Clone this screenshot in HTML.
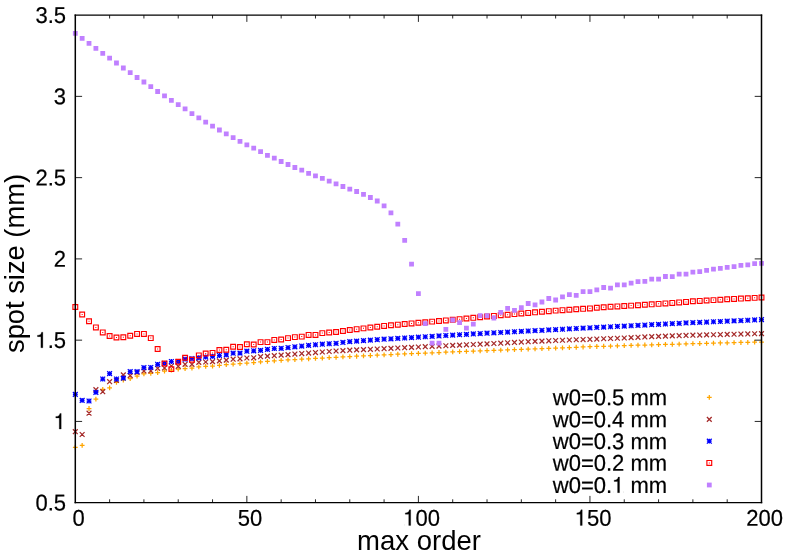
<!DOCTYPE html>
<html><head><meta charset="utf-8"><title>plot</title>
<style>
html,body{margin:0;padding:0;background:#fff;}
svg{display:block;filter:grayscale(0);}
text{font-family:"Liberation Sans",sans-serif;fill:#000;}
.t{font-size:22px;stroke:#000;stroke-width:0.2;}
.T{font-size:27.5px;}
.s{fill:none;stroke-width:1.25;}
.one{fill:#000;stroke:#000;stroke-width:12;}
.axh{fill:none;stroke:#000;stroke-width:1.25;}
.axv{fill:none;stroke:#000;stroke-width:1.5;}
.tk{fill:none;stroke:#000;stroke-width:0.85;}
.b{fill:none;stroke-width:1.15;}
</style></head><body>
<svg width="789" height="552" viewBox="0 0 789 552">
<rect width="789" height="552" fill="#fff"/>
<path class="s" stroke="#ffa500" d="M72.9 447.3H77.7M75.3 444.9V449.7M79.76 445.4H84.56M82.16 443V447.8M86.62 408.5H91.42M89.02 406.1V410.9M93.49 399.1H98.29M95.89 396.7V401.5M100.35 389.3H105.15M102.75 386.9V391.7M107.21 387.9H112.01M109.61 385.5V390.3M114.07 382.3H118.87M116.47 379.9V384.7M120.93 380.2H125.73M123.33 377.8V382.6M127.8 378.7H132.6M130.2 376.3V381.1M134.66 376.1H139.46M137.06 373.7V378.5M141.52 373.8H146.32M143.92 371.4V376.2M148.38 373.4H153.18M150.78 371V375.8M155.24 372.7H160.04M157.64 370.3V375.1M162.11 371.1H166.91M164.51 368.7V373.5M168.97 370.1H173.77M171.37 367.7V372.5M175.83 369.2H180.63M178.23 366.8V371.6M182.69 368.5H187.49M185.09 366.1V370.9M189.55 368.1H194.35M191.95 365.7V370.5M196.42 366.9H201.22M198.82 364.5V369.3M203.28 366.3H208.08M205.68 363.9V368.7M210.14 366.2H214.94M212.54 363.8V368.6M217 365.4H221.8M219.4 363V367.8M223.86 364.7H228.66M226.26 362.3V367.1M230.73 364.15H235.53M233.13 361.75V366.55M237.59 363.6H242.39M239.99 361.2V366M244.45 363.05H249.25M246.85 360.65V365.45M251.31 362.5H256.11M253.71 360.1V364.9M258.17 361.95H262.97M260.57 359.55V364.35M265.04 361.4H269.84M267.44 359V363.8M271.9 360.85H276.7M274.3 358.45V363.25M278.76 360.3H283.56M281.16 357.9V362.7M285.62 359.93H290.42M288.02 357.53V362.32M292.48 359.55H297.28M294.88 357.15V361.95M299.35 359.18H304.15M301.75 356.78V361.57M306.21 358.8H311.01M308.61 356.4V361.2M313.07 358.43H317.87M315.47 356.03V360.82M319.93 358.05H324.73M322.33 355.65V360.45M326.79 357.68H331.59M329.19 355.28V360.07M333.66 357.3H338.46M336.06 354.9V359.7M340.52 356.95H345.32M342.92 354.55V359.35M347.38 356.6H352.18M349.78 354.2V359M354.24 356.24H359.04M356.64 353.84V358.64M361.1 355.88H365.9M363.5 353.48V358.28M367.97 355.52H372.77M370.37 353.12V357.92M374.83 355.16H379.63M377.23 352.76V357.56M381.69 354.8H386.49M384.09 352.4V357.2M388.55 354.52H393.35M390.95 352.12V356.92M395.41 354.24H400.21M397.81 351.84V356.64M402.28 353.96H407.08M404.68 351.56V356.36M409.14 353.68H413.94M411.54 351.28V356.08M416 353.4H420.8M418.4 351V355.8M422.86 353.1H427.66M425.26 350.7V355.5M429.72 352.8H434.52M432.12 350.4V355.2M436.59 352.5H441.39M438.99 350.1V354.9M443.45 352.2H448.25M445.85 349.8V354.6M450.31 351.9H455.11M452.71 349.5V354.3M457.17 351.66H461.97M459.57 349.26V354.06M464.03 351.42H468.83M466.43 349.02V353.82M470.9 351.18H475.7M473.3 348.78V353.58M477.76 350.94H482.56M480.16 348.54V353.34M484.62 350.7H489.42M487.02 348.3V353.1M491.48 350.45H496.28M493.88 348.05V352.85M498.34 350.2H503.14M500.74 347.8V352.6M505.21 349.95H510.01M507.61 347.55V352.35M512.07 349.7H516.87M514.47 347.3V352.1M518.93 349.45H523.73M521.33 347.05V351.85M525.79 349.2H530.59M528.19 346.8V351.6M532.65 348.92H537.45M535.05 346.52V351.32M539.52 348.64H544.32M541.92 346.24V351.04M546.38 348.37H551.18M548.78 345.97V350.77M553.24 348.09H558.04M555.64 345.69V350.49M560.1 347.81H564.9M562.5 345.41V350.21M566.96 347.53H571.76M569.36 345.13V349.93M573.83 347.26H578.63M576.23 344.86V349.66M580.69 346.98H585.49M583.09 344.58V349.38M587.55 346.7H592.35M589.95 344.3V349.1M594.41 346.48H599.21M596.81 344.08V348.88M601.27 346.26H606.07M603.67 343.86V348.66M608.14 346.04H612.94M610.54 343.64V348.44M615 345.82H619.8M617.4 343.42V348.22M621.86 345.6H626.66M624.26 343.2V348M628.72 345.4H633.52M631.12 343V347.8M635.58 345.2H640.38M637.98 342.8V347.6M642.45 345H647.25M644.85 342.6V347.4M649.31 344.8H654.11M651.71 342.4V347.2M656.17 344.62H660.97M658.57 342.22V347.02M663.03 344.43H667.83M665.43 342.03V346.83M669.89 344.25H674.69M672.29 341.85V346.65M676.76 344.07H681.56M679.16 341.67V346.47M683.62 343.88H688.42M686.02 341.48V346.28M690.48 343.7H695.28M692.88 341.3V346.1M697.34 343.52H702.14M699.74 341.12V345.92M704.2 343.34H709M706.6 340.94V345.74M711.07 343.16H715.87M713.47 340.76V345.56M717.93 342.98H722.73M720.33 340.58V345.38M724.79 342.8H729.59M727.19 340.4V345.2M731.65 342.64H736.45M734.05 340.24V345.04M738.51 342.48H743.31M740.91 340.08V344.88M745.38 342.32H750.18M747.78 339.92V344.72M752.24 342.16H757.04M754.64 339.76V344.56M759.1 342H763.9M761.5 339.6V344.4"/>
<path class="s" stroke="#a52a2a" d="M72.9 429.3L77.7 434.1M72.9 434.1L77.7 429.3M79.76 432.1L84.56 436.9M79.76 436.9L84.56 432.1M86.62 410.8L91.42 415.6M86.62 415.6L91.42 410.8M93.49 387.3L98.29 392.1M93.49 392.1L98.29 387.3M100.35 389.3L105.15 394.1M100.35 394.1L105.15 389.3M107.21 379.3L112.01 384.1M107.21 384.1L112.01 379.3M114.07 378.1L118.87 382.9M114.07 382.9L118.87 378.1M120.93 372.5L125.73 377.3M120.93 377.3L125.73 372.5M127.8 373.2L132.6 378M127.8 378L132.6 373.2M134.66 370.1L139.46 374.9M134.66 374.9L139.46 370.1M141.52 368.6L146.32 373.4M141.52 373.4L146.32 368.6M148.38 368.4L153.18 373.2M148.38 373.2L153.18 368.4M155.24 365.9L160.04 370.7M155.24 370.7L160.04 365.9M162.11 365.6L166.91 370.4M162.11 370.4L166.91 365.6M168.97 363.6L173.77 368.4M168.97 368.4L173.77 363.6M175.83 363.9L180.63 368.7M175.83 368.7L180.63 363.9M182.69 361.9L187.49 366.7M182.69 366.7L187.49 361.9M189.55 361.9L194.35 366.7M189.55 366.7L194.35 361.9M196.42 360L201.22 364.8M196.42 364.8L201.22 360M203.28 359.6L208.08 364.4M203.28 364.4L208.08 359.6M210.14 359.2L214.94 364M210.14 364L214.94 359.2M217 358.5L221.8 363.3M217 363.3L221.8 358.5M223.86 357.7L228.66 362.5M223.86 362.5L228.66 357.7M230.73 356.8L235.53 361.6M230.73 361.6L235.53 356.8M237.59 356.4L242.39 361.2M237.59 361.2L242.39 356.4M244.45 355.6L249.25 360.4M244.45 360.4L249.25 355.6M251.31 355.4L256.11 360.2M251.31 360.2L256.11 355.4M258.17 354.3L262.97 359.1M258.17 359.1L262.97 354.3M265.04 353.7L269.84 358.5M265.04 358.5L269.84 353.7M271.9 353.3L276.7 358.1M271.9 358.1L276.7 353.3M278.76 352.7L283.56 357.5M278.76 357.5L283.56 352.7M285.62 352.19L290.42 356.99M285.62 356.99L290.42 352.19M292.48 351.68L297.28 356.48M292.48 356.48L297.28 351.68M299.35 351.16L304.15 355.96M299.35 355.96L304.15 351.16M306.21 350.65L311.01 355.45M306.21 355.45L311.01 350.65M313.07 350.14L317.87 354.94M313.07 354.94L317.87 350.14M319.93 349.62L324.73 354.42M319.93 354.42L324.73 349.62M326.79 349.11L331.59 353.91M326.79 353.91L331.59 349.11M333.66 348.6L338.46 353.4M333.66 353.4L338.46 348.6M340.52 348.2L345.32 353M340.52 353L345.32 348.2M347.38 347.8L352.18 352.6M347.38 352.6L352.18 347.8M354.24 347.5L359.04 352.3M354.24 352.3L359.04 347.5M361.1 347.2L365.9 352M361.1 352L365.9 347.2M367.97 346.9L372.77 351.7M367.97 351.7L372.77 346.9M374.83 346.6L379.63 351.4M374.83 351.4L379.63 346.6M381.69 346.3L386.49 351.1M381.69 351.1L386.49 346.3M388.55 345.96L393.35 350.76M388.55 350.76L393.35 345.96M395.41 345.62L400.21 350.42M395.41 350.42L400.21 345.62M402.28 345.28L407.08 350.08M402.28 350.08L407.08 345.28M409.14 344.94L413.94 349.74M409.14 349.74L413.94 344.94M416 344.6L420.8 349.4M416 349.4L420.8 344.6M422.86 344.28L427.66 349.08M422.86 349.08L427.66 344.28M429.72 343.96L434.52 348.76M429.72 348.76L434.52 343.96M436.59 343.64L441.39 348.44M436.59 348.44L441.39 343.64M443.45 343.32L448.25 348.12M443.45 348.12L448.25 343.32M450.31 343L455.11 347.8M450.31 347.8L455.11 343M457.17 342.7L461.97 347.5M457.17 347.5L461.97 342.7M464.03 342.4L468.83 347.2M464.03 347.2L468.83 342.4M470.9 342.1L475.7 346.9M470.9 346.9L475.7 342.1M477.76 341.8L482.56 346.6M477.76 346.6L482.56 341.8M484.62 341.5L489.42 346.3M484.62 346.3L489.42 341.5M491.48 341.13L496.28 345.93M491.48 345.93L496.28 341.13M498.34 340.77L503.14 345.57M498.34 345.57L503.14 340.77M505.21 340.4L510.01 345.2M505.21 345.2L510.01 340.4M512.07 340.03L516.87 344.83M512.07 344.83L516.87 340.03M518.93 339.67L523.73 344.47M518.93 344.47L523.73 339.67M525.79 339.3L530.59 344.1M525.79 344.1L530.59 339.3M532.65 339L537.45 343.8M532.65 343.8L537.45 339M539.52 338.7L544.32 343.5M539.52 343.5L544.32 338.7M546.38 338.4L551.18 343.2M546.38 343.2L551.18 338.4M553.24 338.1L558.04 342.9M553.24 342.9L558.04 338.1M560.1 337.86L564.9 342.66M560.1 342.66L564.9 337.86M566.96 337.62L571.76 342.42M566.96 342.42L571.76 337.62M573.83 337.38L578.63 342.18M573.83 342.18L578.63 337.38M580.69 337.14L585.49 341.94M580.69 341.94L585.49 337.14M587.55 336.9L592.35 341.7M587.55 341.7L592.35 336.9M594.41 336.64L599.21 341.44M594.41 341.44L599.21 336.64M601.27 336.38L606.07 341.18M601.27 341.18L606.07 336.38M608.14 336.12L612.94 340.92M608.14 340.92L612.94 336.12M615 335.86L619.8 340.66M615 340.66L619.8 335.86M621.86 335.6L626.66 340.4M621.86 340.4L626.66 335.6M628.72 335.25L633.52 340.05M628.72 340.05L633.52 335.25M635.58 334.9L640.38 339.7M635.58 339.7L640.38 334.9M642.45 334.55L647.25 339.35M642.45 339.35L647.25 334.55M649.31 334.2L654.11 339M649.31 339L654.11 334.2M656.17 333.97L660.97 338.77M656.17 338.77L660.97 333.97M663.03 333.73L667.83 338.53M663.03 338.53L667.83 333.73M669.89 333.5L674.69 338.3M669.89 338.3L674.69 333.5M676.76 333.27L681.56 338.07M676.76 338.07L681.56 333.27M683.62 333.03L688.42 337.83M683.62 337.83L688.42 333.03M690.48 332.8L695.28 337.6M690.48 337.6L695.28 332.8M697.34 332.64L702.14 337.44M697.34 337.44L702.14 332.64M704.2 332.48L709 337.28M704.2 337.28L709 332.48M711.07 332.32L715.87 337.12M711.07 337.12L715.87 332.32M717.93 332.16L722.73 336.96M717.93 336.96L722.73 332.16M724.79 332L729.59 336.8M724.79 336.8L729.59 332M731.65 331.84L736.45 336.64M731.65 336.64L736.45 331.84M738.51 331.68L743.31 336.48M738.51 336.48L743.31 331.68M745.38 331.52L750.18 336.32M745.38 336.32L750.18 331.52M752.24 331.36L757.04 336.16M752.24 336.16L757.04 331.36M759.1 331.2L763.9 336M759.1 336L763.9 331.2"/>
<path class="s" stroke="#0000ff" d="M72.9 394.4H77.7M75.3 392V396.8M72.9 392L77.7 396.8M72.9 396.8L77.7 392M79.76 400.4H84.56M82.16 398V402.8M79.76 398L84.56 402.8M79.76 402.8L84.56 398M86.62 401H91.42M89.02 398.6V403.4M86.62 398.6L91.42 403.4M86.62 403.4L91.42 398.6M93.49 392.4H98.29M95.89 390V394.8M93.49 390L98.29 394.8M93.49 394.8L98.29 390M100.35 379H105.15M102.75 376.6V381.4M100.35 376.6L105.15 381.4M100.35 381.4L105.15 376.6M107.21 373.6H112.01M109.61 371.2V376M107.21 371.2L112.01 376M107.21 376L112.01 371.2M114.07 379H118.87M116.47 376.6V381.4M114.07 376.6L118.87 381.4M114.07 381.4L118.87 376.6M120.93 378.1H125.73M123.33 375.7V380.5M120.93 375.7L125.73 380.5M120.93 380.5L125.73 375.7M127.8 371.6H132.6M130.2 369.2V374M127.8 369.2L132.6 374M127.8 374L132.6 369.2M134.66 371.7H139.46M137.06 369.3V374.1M134.66 369.3L139.46 374.1M134.66 374.1L139.46 369.3M141.52 367.7H146.32M143.92 365.3V370.1M141.52 365.3L146.32 370.1M141.52 370.1L146.32 365.3M148.38 367.5H153.18M150.78 365.1V369.9M148.38 365.1L153.18 369.9M148.38 369.9L153.18 365.1M155.24 364.3H160.04M157.64 361.9V366.7M155.24 361.9L160.04 366.7M155.24 366.7L160.04 361.9M162.11 363.4H166.91M164.51 361V365.8M162.11 361L166.91 365.8M162.11 365.8L166.91 361M168.97 361.5H173.77M171.37 359.1V363.9M168.97 359.1L173.77 363.9M168.97 363.9L173.77 359.1M175.83 361.6H180.63M178.23 359.2V364M175.83 359.2L180.63 364M175.83 364L180.63 359.2M182.69 359.2H187.49M185.09 356.8V361.6M182.69 356.8L187.49 361.6M182.69 361.6L187.49 356.8M189.55 358.7H194.35M191.95 356.3V361.1M189.55 356.3L194.35 361.1M189.55 361.1L194.35 356.3M196.42 357.8H201.22M198.82 355.4V360.2M196.42 355.4L201.22 360.2M196.42 360.2L201.22 355.4M203.28 357H208.08M205.68 354.6V359.4M203.28 354.6L208.08 359.4M203.28 359.4L208.08 354.6M210.14 356.3H214.94M212.54 353.9V358.7M210.14 353.9L214.94 358.7M210.14 358.7L214.94 353.9M217 355.5H221.8M219.4 353.1V357.9M217 353.1L221.8 357.9M217 357.9L221.8 353.1M223.86 354.9H228.66M226.26 352.5V357.3M223.86 352.5L228.66 357.3M223.86 357.3L228.66 352.5M230.73 353.2H235.53M233.13 350.8V355.6M230.73 350.8L235.53 355.6M230.73 355.6L235.53 350.8M237.59 353.1H242.39M239.99 350.7V355.5M237.59 350.7L242.39 355.5M237.59 355.5L242.39 350.7M244.45 351.2H249.25M246.85 348.8V353.6M244.45 348.8L249.25 353.6M244.45 353.6L249.25 348.8M251.31 350.8H256.11M253.71 348.4V353.2M251.31 348.4L256.11 353.2M251.31 353.2L256.11 348.4M258.17 350.4H262.97M260.57 348V352.8M258.17 348L262.97 352.8M258.17 352.8L262.97 348M265.04 349.3H269.84M267.44 346.9V351.7M265.04 346.9L269.84 351.7M265.04 351.7L269.84 346.9M271.9 348.5H276.7M274.3 346.1V350.9M271.9 346.1L276.7 350.9M271.9 350.9L276.7 346.1M278.76 348.3H283.56M281.16 345.9V350.7M278.76 345.9L283.56 350.7M278.76 350.7L283.56 345.9M285.62 347.55H290.42M288.02 345.15V349.95M285.62 345.15L290.42 349.95M285.62 349.95L290.42 345.15M292.48 346.8H297.28M294.88 344.4V349.2M292.48 344.4L297.28 349.2M292.48 349.2L297.28 344.4M299.35 346.05H304.15M301.75 343.65V348.45M299.35 343.65L304.15 348.45M299.35 348.45L304.15 343.65M306.21 345.3H311.01M308.61 342.9V347.7M306.21 342.9L311.01 347.7M306.21 347.7L311.01 342.9M313.07 344.75H317.87M315.47 342.35V347.15M313.07 342.35L317.87 347.15M313.07 347.15L317.87 342.35M319.93 344.2H324.73M322.33 341.8V346.6M319.93 341.8L324.73 346.6M319.93 346.6L324.73 341.8M326.79 343.75H331.59M329.19 341.35V346.15M326.79 341.35L331.59 346.15M326.79 346.15L331.59 341.35M333.66 343.3H338.46M336.06 340.9V345.7M333.66 340.9L338.46 345.7M333.66 345.7L338.46 340.9M340.52 342.45H345.32M342.92 340.05V344.85M340.52 340.05L345.32 344.85M340.52 344.85L345.32 340.05M347.38 341.6H352.18M349.78 339.2V344M347.38 339.2L352.18 344M347.38 344L352.18 339.2M354.24 341.12H359.04M356.64 338.72V343.52M354.24 338.72L359.04 343.52M354.24 343.52L359.04 338.72M361.1 340.64H365.9M363.5 338.24V343.04M361.1 338.24L365.9 343.04M361.1 343.04L365.9 338.24M367.97 340.16H372.77M370.37 337.76V342.56M367.97 337.76L372.77 342.56M367.97 342.56L372.77 337.76M374.83 339.68H379.63M377.23 337.28V342.08M374.83 337.28L379.63 342.08M374.83 342.08L379.63 337.28M381.69 339.2H386.49M384.09 336.8V341.6M381.69 336.8L386.49 341.6M381.69 341.6L386.49 336.8M388.55 338.8H393.35M390.95 336.4V341.2M388.55 336.4L393.35 341.2M388.55 341.2L393.35 336.4M395.41 338.4H400.21M397.81 336V340.8M395.41 336L400.21 340.8M395.41 340.8L400.21 336M402.28 338H407.08M404.68 335.6V340.4M402.28 335.6L407.08 340.4M402.28 340.4L407.08 335.6M409.14 337.6H413.94M411.54 335.2V340M409.14 335.2L413.94 340M409.14 340L413.94 335.2M416 337.2H420.8M418.4 334.8V339.6M416 334.8L420.8 339.6M416 339.6L420.8 334.8M422.86 336.78H427.66M425.26 334.38V339.18M422.86 334.38L427.66 339.18M422.86 339.18L427.66 334.38M429.72 336.36H434.52M432.12 333.96V338.76M429.72 333.96L434.52 338.76M429.72 338.76L434.52 333.96M436.59 335.94H441.39M438.99 333.54V338.34M436.59 333.54L441.39 338.34M436.59 338.34L441.39 333.54M443.45 335.52H448.25M445.85 333.12V337.92M443.45 333.12L448.25 337.92M443.45 337.92L448.25 333.12M450.31 335.1H455.11M452.71 332.7V337.5M450.31 332.7L455.11 337.5M450.31 337.5L455.11 332.7M457.17 334.72H461.97M459.57 332.32V337.12M457.17 332.32L461.97 337.12M457.17 337.12L461.97 332.32M464.03 334.34H468.83M466.43 331.94V336.74M464.03 331.94L468.83 336.74M464.03 336.74L468.83 331.94M470.9 333.96H475.7M473.3 331.56V336.36M470.9 331.56L475.7 336.36M470.9 336.36L475.7 331.56M477.76 333.58H482.56M480.16 331.18V335.98M477.76 331.18L482.56 335.98M477.76 335.98L482.56 331.18M484.62 333.2H489.42M487.02 330.8V335.6M484.62 330.8L489.42 335.6M484.62 335.6L489.42 330.8M491.48 332.83H496.28M493.88 330.43V335.23M491.48 330.43L496.28 335.23M491.48 335.23L496.28 330.43M498.34 332.47H503.14M500.74 330.07V334.87M498.34 330.07L503.14 334.87M498.34 334.87L503.14 330.07M505.21 332.1H510.01M507.61 329.7V334.5M505.21 329.7L510.01 334.5M505.21 334.5L510.01 329.7M512.07 331.73H516.87M514.47 329.33V334.13M512.07 329.33L516.87 334.13M512.07 334.13L516.87 329.33M518.93 331.37H523.73M521.33 328.97V333.77M518.93 328.97L523.73 333.77M518.93 333.77L523.73 328.97M525.79 331H530.59M528.19 328.6V333.4M525.79 328.6L530.59 333.4M525.79 333.4L530.59 328.6M532.65 330.65H537.45M535.05 328.25V333.05M532.65 328.25L537.45 333.05M532.65 333.05L537.45 328.25M539.52 330.3H544.32M541.92 327.9V332.7M539.52 327.9L544.32 332.7M539.52 332.7L544.32 327.9M546.38 329.95H551.18M548.78 327.55V332.35M546.38 327.55L551.18 332.35M546.38 332.35L551.18 327.55M553.24 329.6H558.04M555.64 327.2V332M553.24 327.2L558.04 332M553.24 332L558.04 327.2M560.1 329.24H564.9M562.5 326.84V331.64M560.1 326.84L564.9 331.64M560.1 331.64L564.9 326.84M566.96 328.88H571.76M569.36 326.48V331.28M566.96 326.48L571.76 331.28M566.96 331.28L571.76 326.48M573.83 328.52H578.63M576.23 326.12V330.92M573.83 326.12L578.63 330.92M573.83 330.92L578.63 326.12M580.69 328.16H585.49M583.09 325.76V330.56M580.69 325.76L585.49 330.56M580.69 330.56L585.49 325.76M587.55 327.8H592.35M589.95 325.4V330.2M587.55 325.4L592.35 330.2M587.55 330.2L592.35 325.4M594.41 327.46H599.21M596.81 325.06V329.86M594.41 325.06L599.21 329.86M594.41 329.86L599.21 325.06M601.27 327.12H606.07M603.67 324.72V329.52M601.27 324.72L606.07 329.52M601.27 329.52L606.07 324.72M608.14 326.78H612.94M610.54 324.38V329.18M608.14 324.38L612.94 329.18M608.14 329.18L612.94 324.38M615 326.44H619.8M617.4 324.04V328.84M615 324.04L619.8 328.84M615 328.84L619.8 324.04M621.86 326.1H626.66M624.26 323.7V328.5M621.86 323.7L626.66 328.5M621.86 328.5L626.66 323.7M628.72 325.75H633.52M631.12 323.35V328.15M628.72 323.35L633.52 328.15M628.72 328.15L633.52 323.35M635.58 325.4H640.38M637.98 323V327.8M635.58 323L640.38 327.8M635.58 327.8L640.38 323M642.45 325.05H647.25M644.85 322.65V327.45M642.45 322.65L647.25 327.45M642.45 327.45L647.25 322.65M649.31 324.7H654.11M651.71 322.3V327.1M649.31 322.3L654.11 327.1M649.31 327.1L654.11 322.3M656.17 324.35H660.97M658.57 321.95V326.75M656.17 321.95L660.97 326.75M656.17 326.75L660.97 321.95M663.03 324H667.83M665.43 321.6V326.4M663.03 321.6L667.83 326.4M663.03 326.4L667.83 321.6M669.89 323.65H674.69M672.29 321.25V326.05M669.89 321.25L674.69 326.05M669.89 326.05L674.69 321.25M676.76 323.3H681.56M679.16 320.9V325.7M676.76 320.9L681.56 325.7M676.76 325.7L681.56 320.9M683.62 322.95H688.42M686.02 320.55V325.35M683.62 320.55L688.42 325.35M683.62 325.35L688.42 320.55M690.48 322.6H695.28M692.88 320.2V325M690.48 320.2L695.28 325M690.48 325L695.28 320.2M697.34 322.32H702.14M699.74 319.92V324.72M697.34 319.92L702.14 324.72M697.34 324.72L702.14 319.92M704.2 322.04H709M706.6 319.64V324.44M704.2 319.64L709 324.44M704.2 324.44L709 319.64M711.07 321.76H715.87M713.47 319.36V324.16M711.07 319.36L715.87 324.16M711.07 324.16L715.87 319.36M717.93 321.48H722.73M720.33 319.08V323.88M717.93 319.08L722.73 323.88M717.93 323.88L722.73 319.08M724.79 321.2H729.59M727.19 318.8V323.6M724.79 318.8L729.59 323.6M724.79 323.6L729.59 318.8M731.65 320.88H736.45M734.05 318.48V323.28M731.65 318.48L736.45 323.28M731.65 323.28L736.45 318.48M738.51 320.56H743.31M740.91 318.16V322.96M738.51 318.16L743.31 322.96M738.51 322.96L743.31 318.16M745.38 320.24H750.18M747.78 317.84V322.64M745.38 317.84L750.18 322.64M745.38 322.64L750.18 317.84M752.24 319.92H757.04M754.64 317.52V322.32M752.24 317.52L757.04 322.32M752.24 322.32L757.04 317.52M759.1 319.6H763.9M761.5 317.2V322M759.1 317.2L763.9 322M759.1 322L763.9 317.2"/>
<path class="b" stroke="#ff0000" d="M72.9 304.6h4.8v4.8h-4.8zM79.76 312.1h4.8v4.8h-4.8zM86.62 318.9h4.8v4.8h-4.8zM93.49 325h4.8v4.8h-4.8zM100.35 330h4.8v4.8h-4.8zM107.21 333.6h4.8v4.8h-4.8zM114.07 335.1h4.8v4.8h-4.8zM120.93 334.9h4.8v4.8h-4.8zM127.8 333.4h4.8v4.8h-4.8zM134.66 331.5h4.8v4.8h-4.8zM141.52 331.5h4.8v4.8h-4.8zM148.38 335.7h4.8v4.8h-4.8zM155.24 346.6h4.8v4.8h-4.8zM162.11 361.1h4.8v4.8h-4.8zM168.97 366.7h4.8v4.8h-4.8zM175.83 359.4h4.8v4.8h-4.8zM182.69 355.4h4.8v4.8h-4.8zM189.55 357.3h4.8v4.8h-4.8zM196.42 353h4.8v4.8h-4.8zM203.28 351.1h4.8v4.8h-4.8zM210.14 350.5h4.8v4.8h-4.8zM217 347.6h4.8v4.8h-4.8zM223.86 347.4h4.8v4.8h-4.8zM230.73 344.4h4.8v4.8h-4.8zM237.59 344.6h4.8v4.8h-4.8zM244.45 341.9h4.8v4.8h-4.8zM251.31 342.1h4.8v4.8h-4.8zM258.17 339.7h4.8v4.8h-4.8zM265.04 339.7h4.8v4.8h-4.8zM271.9 337.5h4.8v4.8h-4.8zM278.76 337.1h4.8v4.8h-4.8zM285.62 335.7h4.8v4.8h-4.8zM292.48 334.7h4.8v4.8h-4.8zM299.35 334.2h4.8v4.8h-4.8zM306.21 332.5h4.8v4.8h-4.8zM313.07 332.5h4.8v4.8h-4.8zM319.93 330.7h4.8v4.8h-4.8zM326.79 330.1h4.8v4.8h-4.8zM333.66 329.6h4.8v4.8h-4.8zM340.52 328.6h4.8v4.8h-4.8zM347.38 327.6h4.8v4.8h-4.8zM354.24 326.78h4.8v4.8h-4.8zM361.1 325.96h4.8v4.8h-4.8zM367.97 325.14h4.8v4.8h-4.8zM374.83 324.32h4.8v4.8h-4.8zM381.69 323.5h4.8v4.8h-4.8zM388.55 322.88h4.8v4.8h-4.8zM395.41 322.26h4.8v4.8h-4.8zM402.28 321.64h4.8v4.8h-4.8zM409.14 321.02h4.8v4.8h-4.8zM416 320.4h4.8v4.8h-4.8zM422.86 319.8h4.8v4.8h-4.8zM429.72 319.2h4.8v4.8h-4.8zM436.59 318.6h4.8v4.8h-4.8zM443.45 318h4.8v4.8h-4.8zM450.31 317.4h4.8v4.8h-4.8zM457.17 316.74h4.8v4.8h-4.8zM464.03 316.08h4.8v4.8h-4.8zM470.9 315.42h4.8v4.8h-4.8zM477.76 314.76h4.8v4.8h-4.8zM484.62 314.1h4.8v4.8h-4.8zM491.48 313.5h4.8v4.8h-4.8zM498.34 312.9h4.8v4.8h-4.8zM505.21 312.3h4.8v4.8h-4.8zM512.07 311.7h4.8v4.8h-4.8zM518.93 311.1h4.8v4.8h-4.8zM525.79 310.5h4.8v4.8h-4.8zM532.65 309.93h4.8v4.8h-4.8zM539.52 309.35h4.8v4.8h-4.8zM546.38 308.78h4.8v4.8h-4.8zM553.24 308.2h4.8v4.8h-4.8zM560.1 307.76h4.8v4.8h-4.8zM566.96 307.32h4.8v4.8h-4.8zM573.83 306.88h4.8v4.8h-4.8zM580.69 306.44h4.8v4.8h-4.8zM587.55 306h4.8v4.8h-4.8zM594.41 305.4h4.8v4.8h-4.8zM601.27 304.8h4.8v4.8h-4.8zM608.14 304.4h4.8v4.8h-4.8zM615 304h4.8v4.8h-4.8zM621.86 303.6h4.8v4.8h-4.8zM628.72 303.2h4.8v4.8h-4.8zM635.58 302.8h4.8v4.8h-4.8zM642.45 302.4h4.8v4.8h-4.8zM649.31 301.93h4.8v4.8h-4.8zM656.17 301.47h4.8v4.8h-4.8zM663.03 301h4.8v4.8h-4.8zM669.89 300.5h4.8v4.8h-4.8zM676.76 300h4.8v4.8h-4.8zM683.62 299.5h4.8v4.8h-4.8zM690.48 298.9h4.8v4.8h-4.8zM697.34 298.5h4.8v4.8h-4.8zM704.2 298.1h4.8v4.8h-4.8zM711.07 297.7h4.8v4.8h-4.8zM717.93 297.3h4.8v4.8h-4.8zM724.79 296.9h4.8v4.8h-4.8zM731.65 296.54h4.8v4.8h-4.8zM738.51 296.18h4.8v4.8h-4.8zM745.38 295.82h4.8v4.8h-4.8zM752.24 295.46h4.8v4.8h-4.8zM759.1 295.1h4.8v4.8h-4.8z"/>
<path fill="#ff0000" d="M74.8 306.5h1v1h-1zM81.66 314h1v1h-1zM88.52 320.8h1v1h-1zM95.39 326.9h1v1h-1zM102.25 331.9h1v1h-1zM109.11 335.5h1v1h-1zM115.97 337h1v1h-1zM122.83 336.8h1v1h-1zM129.7 335.3h1v1h-1zM136.56 333.4h1v1h-1zM143.42 333.4h1v1h-1zM150.28 337.6h1v1h-1zM157.14 348.5h1v1h-1zM164.01 363h1v1h-1zM170.87 368.6h1v1h-1zM177.73 361.3h1v1h-1zM184.59 357.3h1v1h-1zM191.45 359.2h1v1h-1zM198.32 354.9h1v1h-1zM205.18 353h1v1h-1zM212.04 352.4h1v1h-1zM218.9 349.5h1v1h-1zM225.76 349.3h1v1h-1zM232.63 346.3h1v1h-1zM239.49 346.5h1v1h-1zM246.35 343.8h1v1h-1zM253.21 344h1v1h-1zM260.07 341.6h1v1h-1zM266.94 341.6h1v1h-1zM273.8 339.4h1v1h-1zM280.66 339h1v1h-1zM287.52 337.6h1v1h-1zM294.38 336.6h1v1h-1zM301.25 336.1h1v1h-1zM308.11 334.4h1v1h-1zM314.97 334.4h1v1h-1zM321.83 332.6h1v1h-1zM328.69 332h1v1h-1zM335.56 331.5h1v1h-1zM342.42 330.5h1v1h-1zM349.28 329.5h1v1h-1zM356.14 328.68h1v1h-1zM363 327.86h1v1h-1zM369.87 327.04h1v1h-1zM376.73 326.22h1v1h-1zM383.59 325.4h1v1h-1zM390.45 324.78h1v1h-1zM397.31 324.16h1v1h-1zM404.18 323.54h1v1h-1zM411.04 322.92h1v1h-1zM417.9 322.3h1v1h-1zM424.76 321.7h1v1h-1zM431.62 321.1h1v1h-1zM438.49 320.5h1v1h-1zM445.35 319.9h1v1h-1zM452.21 319.3h1v1h-1zM459.07 318.64h1v1h-1zM465.93 317.98h1v1h-1zM472.8 317.32h1v1h-1zM479.66 316.66h1v1h-1zM486.52 316h1v1h-1zM493.38 315.4h1v1h-1zM500.24 314.8h1v1h-1zM507.11 314.2h1v1h-1zM513.97 313.6h1v1h-1zM520.83 313h1v1h-1zM527.69 312.4h1v1h-1zM534.55 311.82h1v1h-1zM541.42 311.25h1v1h-1zM548.28 310.68h1v1h-1zM555.14 310.1h1v1h-1zM562 309.66h1v1h-1zM568.86 309.22h1v1h-1zM575.73 308.78h1v1h-1zM582.59 308.34h1v1h-1zM589.45 307.9h1v1h-1zM596.31 307.3h1v1h-1zM603.17 306.7h1v1h-1zM610.04 306.3h1v1h-1zM616.9 305.9h1v1h-1zM623.76 305.5h1v1h-1zM630.62 305.1h1v1h-1zM637.48 304.7h1v1h-1zM644.35 304.3h1v1h-1zM651.21 303.83h1v1h-1zM658.07 303.37h1v1h-1zM664.93 302.9h1v1h-1zM671.79 302.4h1v1h-1zM678.66 301.9h1v1h-1zM685.52 301.4h1v1h-1zM692.38 300.8h1v1h-1zM699.24 300.4h1v1h-1zM706.1 300h1v1h-1zM712.97 299.6h1v1h-1zM719.83 299.2h1v1h-1zM726.69 298.8h1v1h-1zM733.55 298.44h1v1h-1zM740.41 298.08h1v1h-1zM747.28 297.72h1v1h-1zM754.14 297.36h1v1h-1zM761 297h1v1h-1z"/>
<path fill="#c080ff" d="M72.9 31h4.8v4.8h-4.8zM79.76 36h4.8v4.8h-4.8zM86.62 40.9h4.8v4.8h-4.8zM93.49 45.9h4.8v4.8h-4.8zM100.35 50.9h4.8v4.8h-4.8zM107.21 55.8h4.8v4.8h-4.8zM114.07 60.6h4.8v4.8h-4.8zM120.93 65.6h4.8v4.8h-4.8zM127.8 70.2h4.8v4.8h-4.8zM134.66 75.1h4.8v4.8h-4.8zM141.52 79.6h4.8v4.8h-4.8zM148.38 84.3h4.8v4.8h-4.8zM155.24 89.1h4.8v4.8h-4.8zM162.11 93.5h4.8v4.8h-4.8zM168.97 97.9h4.8v4.8h-4.8zM175.83 102.3h4.8v4.8h-4.8zM182.69 106.4h4.8v4.8h-4.8zM189.55 111.2h4.8v4.8h-4.8zM196.42 115.4h4.8v4.8h-4.8zM203.28 119.7h4.8v4.8h-4.8zM210.14 123.8h4.8v4.8h-4.8zM217 127.6h4.8v4.8h-4.8zM223.86 131.4h4.8v4.8h-4.8zM230.73 135.2h4.8v4.8h-4.8zM237.59 139h4.8v4.8h-4.8zM244.45 142.5h4.8v4.8h-4.8zM251.31 145.8h4.8v4.8h-4.8zM258.17 149.3h4.8v4.8h-4.8zM265.04 153h4.8v4.8h-4.8zM271.9 155.7h4.8v4.8h-4.8zM278.76 159.1h4.8v4.8h-4.8zM285.62 162.1h4.8v4.8h-4.8zM292.48 165.1h4.8v4.8h-4.8zM299.35 167.8h4.8v4.8h-4.8zM306.21 170.9h4.8v4.8h-4.8zM313.07 173.5h4.8v4.8h-4.8zM319.93 176h4.8v4.8h-4.8zM326.79 178.8h4.8v4.8h-4.8zM333.66 181.4h4.8v4.8h-4.8zM340.52 184.1h4.8v4.8h-4.8zM347.38 186.7h4.8v4.8h-4.8zM354.24 189.1h4.8v4.8h-4.8zM361.1 192h4.8v4.8h-4.8zM367.97 195.1h4.8v4.8h-4.8zM374.83 198.6h4.8v4.8h-4.8zM381.69 203.4h4.8v4.8h-4.8zM388.55 210.4h4.8v4.8h-4.8zM395.41 221.7h4.8v4.8h-4.8zM402.28 238h4.8v4.8h-4.8zM409.14 261.7h4.8v4.8h-4.8zM416 291.2h4.8v4.8h-4.8zM422.86 321.3h4.8v4.8h-4.8zM429.72 340.7h4.8v4.8h-4.8zM436.59 340.7h4.8v4.8h-4.8zM443.45 327h4.8v4.8h-4.8zM450.31 317.6h4.8v4.8h-4.8zM457.17 320.2h4.8v4.8h-4.8zM464.03 325.8h4.8v4.8h-4.8zM470.9 321.7h4.8v4.8h-4.8zM477.76 313.3h4.8v4.8h-4.8zM484.62 313.3h4.8v4.8h-4.8zM491.48 315.6h4.8v4.8h-4.8zM498.34 310h4.8v4.8h-4.8zM505.21 306h4.8v4.8h-4.8zM512.07 308h4.8v4.8h-4.8zM518.93 305.3h4.8v4.8h-4.8zM525.79 301.1h4.8v4.8h-4.8zM532.65 302.4h4.8v4.8h-4.8zM539.52 299.6h4.8v4.8h-4.8zM546.38 296.1h4.8v4.8h-4.8zM553.24 297.6h4.8v4.8h-4.8zM560.1 294.5h4.8v4.8h-4.8zM566.96 292.3h4.8v4.8h-4.8zM573.83 293h4.8v4.8h-4.8zM580.69 289.2h4.8v4.8h-4.8zM587.55 289.2h4.8v4.8h-4.8zM594.41 287.4h4.8v4.8h-4.8zM601.27 285.1h4.8v4.8h-4.8zM608.14 285.7h4.8v4.8h-4.8zM615 282.5h4.8v4.8h-4.8zM621.86 282.5h4.8v4.8h-4.8zM628.72 280.8h4.8v4.8h-4.8zM635.58 279.3h4.8v4.8h-4.8zM642.45 279h4.8v4.8h-4.8zM649.31 276.7h4.8v4.8h-4.8zM656.17 276.8h4.8v4.8h-4.8zM663.03 274.1h4.8v4.8h-4.8zM669.89 274.3h4.8v4.8h-4.8zM676.76 271.8h4.8v4.8h-4.8zM683.62 271.8h4.8v4.8h-4.8zM690.48 269.8h4.8v4.8h-4.8zM697.34 269.2h4.8v4.8h-4.8zM704.2 268h4.8v4.8h-4.8zM711.07 266.8h4.8v4.8h-4.8zM717.93 266h4.8v4.8h-4.8zM724.79 265h4.8v4.8h-4.8zM731.65 264.2h4.8v4.8h-4.8zM738.51 263h4.8v4.8h-4.8zM745.38 262.4h4.8v4.8h-4.8zM752.24 261.2h4.8v4.8h-4.8zM759.1 260.9h4.8v4.8h-4.8z"/>
<path class="s" stroke="#ffa500" d="M706.9 397.3H711.7M709.3 394.9V399.7"/>
<path class="s" stroke="#a52a2a" d="M706.9 417L711.7 421.8M706.9 421.8L711.7 417"/>
<path class="s" stroke="#0000ff" d="M706.9 441.2H711.7M709.3 438.8V443.6M706.9 438.8L711.7 443.6M706.9 443.6L711.7 438.8"/>
<path class="b" stroke="#ff0000" d="M706.9 460.5h4.8v4.8h-4.8z"/>
<path fill="#ff0000" d="M708.8 462.4h1v1h-1z"/>
<path fill="#c080ff" d="M706.9 482.6h4.8v4.8h-4.8z"/>
<path class="tk" d="M109.61 502.7v-3.4M109.61 15.1v3.4M143.92 502.7v-3.4M143.92 15.1v3.4M178.23 502.7v-3.4M178.23 15.1v3.4M212.54 502.7v-3.4M212.54 15.1v3.4M246.85 502.7v-6.8M246.85 15.1v6.8M281.16 502.7v-3.4M281.16 15.1v3.4M315.47 502.7v-3.4M315.47 15.1v3.4M349.78 502.7v-3.4M349.78 15.1v3.4M384.09 502.7v-3.4M384.09 15.1v3.4M418.4 502.7v-6.8M418.4 15.1v6.8M452.71 502.7v-3.4M452.71 15.1v3.4M487.02 502.7v-3.4M487.02 15.1v3.4M521.33 502.7v-3.4M521.33 15.1v3.4M555.64 502.7v-3.4M555.64 15.1v3.4M589.95 502.7v-6.8M589.95 15.1v6.8M624.26 502.7v-3.4M624.26 15.1v3.4M658.57 502.7v-3.4M658.57 15.1v3.4M692.88 502.7v-3.4M692.88 15.1v3.4M727.19 502.7v-3.4M727.19 15.1v3.4M75.3 421.43h6.8M761.5 421.43h-6.8M75.3 340.17h6.8M761.5 340.17h-6.8M75.3 258.9h6.8M761.5 258.9h-6.8M75.3 177.63h6.8M761.5 177.63h-6.8M75.3 96.37h6.8M761.5 96.37h-6.8"/>
<path class="axh" d="M74.6 15.1H762.2M74.6 502.7H762.2"/>
<path class="axv" d="M75.3 14.5V503.3M761.5 14.5V503.3"/>
<text class="t" transform="translate(78.5 525.7) scale(1 1.04) rotate(0.03)" text-anchor="middle">0</text>
<text class="t" transform="translate(250.05 525.7) scale(1 1.04) rotate(0.03)" text-anchor="middle">50</text>
<text class="t" transform="translate(421.6 525.7) scale(1 1.04) rotate(0.03)" text-anchor="middle">100</text>
<text class="t" transform="translate(593.15 525.7) scale(1 1.04) rotate(0.03)" text-anchor="middle">150</text>
<text class="t" transform="translate(764.7 525.7) scale(1 1.04) rotate(0.03)" text-anchor="middle">200</text>
<text class="t" transform="translate(66 510.6) scale(1 1.04) rotate(0.03)" text-anchor="end">0.5</text>
<text class="t" transform="translate(66 429.33) scale(1 1.04) rotate(0.03)" text-anchor="end">1</text>
<text class="t" transform="translate(66 348.07) scale(1 1.04) rotate(0.03)" text-anchor="end">1.5</text>
<text class="t" transform="translate(66 266.8) scale(1 1.04) rotate(0.03)" text-anchor="end">2</text>
<text class="t" transform="translate(66 185.53) scale(1 1.04) rotate(0.03)" text-anchor="end">2.5</text>
<text class="t" transform="translate(66 104.27) scale(1 1.04) rotate(0.03)" text-anchor="end">3</text>
<text class="t" transform="translate(66 23) scale(1 1.04) rotate(0.03)" text-anchor="end">3.5</text>
<text class="t" transform="translate(552.8 405.2) scale(1 1.04) rotate(0.03)">w0=0.5 mm</text>
<text class="t" transform="translate(552.8 427.3) scale(1 1.04) rotate(0.03)">w0=0.4 mm</text>
<text class="t" transform="translate(552.8 449.1) scale(1 1.04) rotate(0.03)">w0=0.3 mm</text>
<text class="t" transform="translate(552.8 470.8) scale(1 1.04) rotate(0.03)">w0=0.2 mm</text>
<text class="t" transform="translate(552.8 492.9) scale(1 1.04) rotate(0.03)">w0=0.1 mm</text>
<rect x="404.25" y="508.49" width="10.7" height="18" fill="#fff"/>
<path class="one" transform="translate(403.05 525.39) scale(0.022 -0.022)" d="M347 0H259V505H102V568C196 572 270 600 290 709H347Z"/>
<rect x="575.8" y="508.49" width="10.7" height="18" fill="#fff"/>
<path class="one" transform="translate(574.6 525.39) scale(0.022 -0.022)" d="M347 0H259V505H102V568C196 572 270 600 290 709H347Z"/>
<rect x="54.76" y="412.12" width="10.7" height="18" fill="#fff"/>
<path class="one" transform="translate(53.56 429.02) scale(0.022 -0.022)" d="M347 0H259V505H102V568C196 572 270 600 290 709H347Z"/>
<rect x="36.41" y="330.85" width="10.7" height="18" fill="#fff"/>
<path class="one" transform="translate(35.21 347.75) scale(0.022 -0.022)" d="M347 0H259V505H102V568C196 572 270 600 290 709H347Z"/>
<rect x="613.09" y="475.73" width="10.7" height="18" fill="#fff"/>
<path class="one" transform="translate(611.89 492.63) scale(0.022 -0.022)" d="M347 0H259V505H102V568C196 572 270 600 290 709H347Z"/>
<text class="T" x="419" y="549.7" text-anchor="middle">max order</text>
<text class="T" style="font-size:27.3px" transform="translate(23.8 263.5) rotate(-90)" text-anchor="middle">spot size (mm)</text>
</svg>
</body></html>
